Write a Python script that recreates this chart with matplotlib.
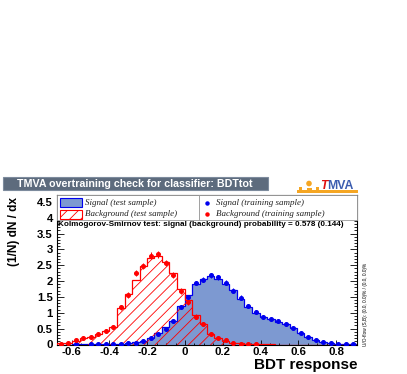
import numpy as np
import matplotlib
matplotlib.use("Agg")
import matplotlib.pyplot as plt
from matplotlib.patches import Rectangle, Circle

# BDT response histograms, 40 bins between X_MIN and X_MAX, normalised (1/N dN/dx)
X_MIN, X_MAX, N_BINS = -0.677, 0.910, 40

sig_test = [0.00, 0.00, 0.01, 0.01, 0.01, 0.01, 0.02, 0.02, 0.03, 0.05,
            0.07, 0.12, 0.20, 0.35, 0.55, 0.75, 1.20, 1.55, 1.90, 2.07,
            2.16, 2.08, 1.92, 1.71, 1.45, 1.18, 1.00, 0.87, 0.79, 0.72,
            0.65, 0.51, 0.37, 0.24, 0.14, 0.08, 0.05, 0.03, 0.02, 0.01]
bkg_test = [0.04, 0.06, 0.12, 0.20, 0.25, 0.32, 0.42, 0.55, 1.16, 1.60,
            2.03, 2.47, 2.72, 2.78, 2.60, 2.25, 1.75, 1.40, 0.92, 0.65,
            0.34, 0.20, 0.12, 0.06, 0.04, 0.02, 0.02, 0.01, 0.01, 0.00,
            0.00, 0.00, 0.00, 0.00, 0.00, 0.00, 0.00, 0.00, 0.00, 0.00]
sig_train = [0.00, 0.00, 0.01, 0.00, 0.01, 0.01, 0.01, 0.02, 0.03, 0.05,
             0.06, 0.12, 0.20, 0.33, 0.50, 0.75, 1.18, 1.50, 1.95, 2.05,
             2.18, 2.12, 1.95, 1.70, 1.48, 1.20, 1.02, 0.88, 0.80, 0.74,
             0.64, 0.52, 0.36, 0.24, 0.14, 0.08, 0.05, 0.03, 0.02, 0.01]
bkg_train = [0.03, 0.05, 0.13, 0.22, 0.25, 0.33, 0.43, 0.56, 1.17, 1.57,
             2.25, 2.47, 2.80, 2.85, 2.58, 2.20, 1.68, 1.34, 0.88, 0.66,
             0.34, 0.21, 0.13, 0.05, 0.03, 0.01, 0.01, 0.00, 0.00, 0.00,
             0.00, 0.00, 0.00, 0.00, 0.00, 0.00, 0.00, 0.00, 0.00, 0.00]
sig_err = [0.01, 0.01, 0.01, 0.01, 0.01, 0.01, 0.01, 0.01, 0.01, 0.02,
           0.02, 0.03, 0.03, 0.04, 0.05, 0.05, 0.06, 0.07, 0.07, 0.08,
           0.08, 0.08, 0.08, 0.07, 0.07, 0.06, 0.06, 0.05, 0.05, 0.05,
           0.05, 0.04, 0.04, 0.03, 0.02, 0.02, 0.01, 0.01, 0.01, 0.01]
bkg_err = [0.02, 0.02, 0.03, 0.04, 0.04, 0.05, 0.05, 0.06, 0.08, 0.09,
           0.10, 0.10, 0.11, 0.11, 0.10, 0.10, 0.09, 0.08, 0.07, 0.06,
           0.04, 0.03, 0.03, 0.02, 0.02, 0.01, 0.01, 0.01, 0.00, 0.00,
           0.00, 0.00, 0.00, 0.00, 0.00, 0.00, 0.00, 0.00, 0.00, 0.00]

x_ticks = [-0.6, -0.4, -0.2, 0.0, 0.2, 0.4, 0.6, 0.8]
y_ticks = [0, 0.5, 1, 1.5, 2, 2.5, 3, 3.5, 4, 4.5]

SIG_FILL, SIG_LINE = "#7d99d1", "#0000ee"
BKG = "#ff0000"
ORANGE = "#f5a623"
W, H = 407, 374

plt.rcParams["hatch.linewidth"] = 0.6
fig = plt.figure(figsize=(W / 100, H / 100), dpi=100)
fig.patch.set_facecolor("white")


def fx(x):
    return x / W


def fy(y):
    return 1 - y / H


# main frame: x 57..357 px, y 195..344.5 px
ax = fig.add_axes([fx(57), fy(344.5), fx(357) - fx(57), fy(195) - fy(344.5)])
edges = np.linspace(X_MIN, X_MAX, N_BINS + 1)
centres = 0.5 * (edges[:-1] + edges[1:])
bw = edges[1] - edges[0]

ax.stairs(sig_test, edges, fill=True, color=SIG_FILL, zorder=1)
ax.stairs(sig_test, edges, color=SIG_LINE, lw=0.9, zorder=2)
ax.stairs(bkg_test, edges, fill=True, facecolor="none", edgecolor=BKG,
          hatch="///", lw=0, zorder=3)
ax.stairs(bkg_test, edges, color=BKG, lw=0.9, zorder=4)

st = np.array(sig_train)
bt = np.array(bkg_train)
ms = st > 0
mb = bt > 0
ax.errorbar(centres[ms], st[ms], yerr=np.array(sig_err)[ms], xerr=0.25 * bw,
            fmt="o", ms=2.6, color=SIG_LINE, elinewidth=0.8, capsize=0, zorder=5)
ax.errorbar(centres[mb], bt[mb], yerr=np.array(bkg_err)[mb], xerr=0.25 * bw,
            fmt="o", ms=2.6, color=BKG, elinewidth=0.8, capsize=0, zorder=5)

ax.set_xlim(X_MIN, X_MAX)
ax.set_ylim(0, 4.72)
ax.set_xticks(x_ticks)
ax.set_xticklabels([f"{v:g}" for v in x_ticks])
ax.set_yticks(y_ticks)
ax.set_yticklabels([f"{v:g}" for v in y_ticks])
ax.set_xticks(np.arange(-0.65, 0.91, 0.05), minor=True)
ax.set_yticks(np.arange(0, 4.72, 0.1), minor=True)
ax.tick_params(which="both", direction="in", top=True, right=True, width=0.6)
ax.tick_params(axis="y", which="major", length=5, pad=3)
ax.tick_params(axis="y", which="minor", length=2.5)
ax.tick_params(axis="x", which="major", length=3.5, pad=1.5)
ax.tick_params(axis="x", which="minor", length=1.8)
for lab in ax.get_xticklabels() + ax.get_yticklabels():
    lab.set_fontfamily("Liberation Sans")
    lab.set_fontweight("bold")
    lab.set_fontsize(8.2)
for s in ax.spines.values():
    s.set_linewidth(0.8)

# overlay in pixel coordinates for title box, legend, logo and texts
ov = fig.add_axes([0, 0, 1, 1], zorder=10)
ov.set_xlim(0, W)
ov.set_ylim(H, 0)
ov.axis("off")
ov.patch.set_alpha(0)

ov.add_patch(Rectangle((3, 177), 265, 13, facecolor="#5d6b7d",
                       edgecolor="#7d8b9d", lw=0.8))
ov.text(17, 183.5, "TMVA overtraining check for classifier: BDTtot",
        color="white", fontsize=7.7, fontweight="bold",
        family="Liberation Sans", va="center", ha="left")

# logo
ov.add_patch(Rectangle((297, 189.5), 61, 3.5, facecolor=ORANGE, lw=0))
ov.add_patch(Circle((309, 183.5), 2.8, facecolor=ORANGE, lw=0))
ov.add_patch(Rectangle((299, 187), 3, 3, facecolor=ORANGE, lw=0))
ov.add_patch(Rectangle((316, 187), 3, 3, facecolor=ORANGE, lw=0))
ov.add_patch(Rectangle((306.5, 187.5), 5, 4, facecolor=ORANGE, lw=0))
ov.text(320, 185.5, "T", color="#e01010", fontsize=8.8, fontweight="bold",
        style="italic", family="Liberation Sans", va="center", ha="left")
ov.text(327, 185.5, "MVA", color="#3b5db0", fontsize=8.8, fontweight="bold",
        family="Liberation Sans", va="center", ha="left")

# legends
ov.add_patch(Rectangle((57, 195), 142, 25, facecolor="white", edgecolor="#999999", lw=0.6))
ov.add_patch(Rectangle((199, 195), 158, 25, facecolor="white", edgecolor="#999999", lw=0.6))
ov.add_patch(Rectangle((60, 198), 22, 9, facecolor=SIG_FILL, edgecolor=SIG_LINE, lw=0.8))
ov.add_patch(Rectangle((60, 209.5), 22, 9, facecolor="none", edgecolor=BKG,
                       hatch="///", lw=0.8))
leg_font = dict(family="Liberation Serif", style="italic", fontsize=6.5,
                va="center", ha="left", color="#222222")
ov.text(85, 202.5, "Signal (test sample)", **leg_font)
ov.text(85, 214, "Background (test sample)", **leg_font)
ov.plot([207], [202.5], "o", ms=2.2, color=SIG_LINE)
ov.plot([207], [214], "o", ms=2.2, color=BKG)
ov.text(216, 202.5, "Signal (training sample)", **leg_font)
ov.text(216, 214, "Background (training sample)", **leg_font)

ov.text(58, 224.5, "Kolmogorov-Smirnov test: signal (background) probability = 0.578 (0.144)",
        fontsize=5.9, fontweight="bold", family="Liberation Sans",
        va="center", ha="left")
ov.text(366, 346, "U/O-flow (S,B): (0.0, 0.0)% / (0.0, 0.0)%", fontsize=3.4,
        family="Liberation Sans", rotation=90, va="bottom", ha="center")

ov.text(357, 364.5, "BDT response", fontsize=11, fontweight="bold",
        family="Liberation Sans", va="center", ha="right")
ov.text(14, 197, "(1/N) dN / dx", fontsize=8.6, fontweight="bold",
        family="Liberation Sans", rotation=90, va="top", ha="center")

fig.savefig("out.png", dpi=100)
